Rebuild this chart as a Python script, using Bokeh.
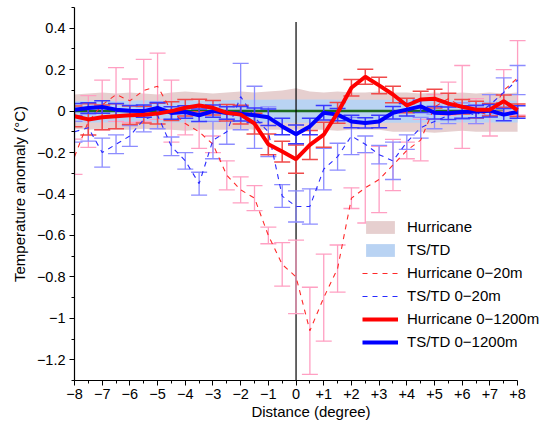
from bokeh.plotting import figure
from bokeh.models import (ColumnDataSource, Whisker, TeeHead, FixedTicker, Legend, LegendItem)
from bokeh.embed import file_html
from bokeh.resources import INLINE

# ---------------- data ----------------
distance = [-8, -7.5, -7, -6.5, -6, -5.5, -5, -4.5, -4, -3.5, -3, -2.5, -2, -1.5, -1, -0.5,
            0, 0.5, 1, 1.5, 2, 2.5, 3, 3.5, 4, 4.5, 5, 5.5, 6, 6.5, 7, 7.5, 8]

# significance bands
hur_band_hi = [0.08, 0.085, 0.09, 0.085, 0.09, 0.085, 0.08, 0.09, 0.095, 0.09, 0.085, 0.09, 0.095, 0.09, 0.095, 0.10,
               0.11, 0.095, 0.09, 0.095, 0.09, 0.09, 0.095, 0.09, 0.09, 0.085, 0.09, 0.085, 0.09, 0.085, 0.09, 0.085, 0.09]
hur_band_lo = [-0.085, -0.09, -0.085, -0.09, -0.09, -0.085, -0.09, -0.09, -0.095, -0.09, -0.09, -0.09, -0.085, -0.09, -0.09, -0.09,
               -0.09, -0.09, -0.09, -0.095, -0.09, -0.09, -0.09, -0.10, -0.10, -0.10, -0.105, -0.10, -0.095, -0.10, -0.10, -0.10, -0.10]
ts_band_hi = [0.048, 0.05, 0.05, 0.048, 0.05, 0.052, 0.05, 0.05, 0.052, 0.05, 0.05, 0.052, 0.055, 0.055, 0.055, 0.056,
              0.056, 0.056, 0.056, 0.055, 0.055, 0.055, 0.055, 0.055, 0.055, 0.055, 0.052, 0.052, 0.05, 0.05, 0.05, 0.05, 0.05]
ts_band_lo = [-0.055, -0.055, -0.055, -0.055, -0.055, -0.055, -0.055, -0.055, -0.055, -0.055, -0.055, -0.055, -0.055, -0.055, -0.055, -0.056,
              -0.056, -0.056, -0.056, -0.056, -0.056, -0.056, -0.056, -0.056, -0.056, -0.056, -0.055, -0.055, -0.055, -0.055, -0.055, -0.055, -0.055]

# Hurricane 0-20m
hur20 = [-0.22, -0.05, 0.03, 0.08, 0.05, 0.10, 0.12, 0.0, -0.06, -0.10, -0.16, -0.31, -0.38, -0.42, -0.60, -0.74,
         -0.80, -1.06, -0.90, -0.76, -0.42, -0.37, -0.33, -0.26, -0.19, -0.14, 0.02, 0.06, 0.02, 0.0, -0.02, 0.10, 0.16]
hur20_err = [0.085, 0.125, 0.12, 0.13, 0.105, 0.15, 0.16, 0.15, 0.055, 0.08, 0.04, 0.07, 0.063, 0.06, 0.04, 0.105,
             0.177, 0.21, 0.21, 0.114, 0.05, 0.17, 0.16, 0.124, 0.04, 0.10, 0.06, 0.08, 0.20, 0.06, 0.10, 0.10, 0.18]

# TS/TD 0-20m
ts20 = [-0.10, -0.08, -0.20, -0.16, -0.12, -0.04, -0.02, -0.17, -0.24, -0.35, -0.14, -0.10, 0.07, -0.03, -0.10, -0.41,
        -0.46, -0.46, -0.28, -0.22, -0.12, -0.16, -0.21, -0.24, -0.15, -0.08, -0.05, -0.02, 0.0, -0.02, 0.03, 0.09, 0.15]
ts20_err = [0.05, 0.065, 0.07, 0.045, 0.05, 0.06, 0.065, 0.045, 0.04, 0.055, 0.09, 0.06, 0.16, 0.15, 0.12, 0.055,
            0.075, 0.085, 0.10, 0.065, 0.09, 0.04, 0.045, 0.09, 0.035, 0.05, 0.035, 0.04, 0.04, 0.04, 0.05, 0.07, 0.07]

# Hurricane 0-1200m
hur1200 = [-0.025, -0.04, -0.03, -0.025, -0.02, -0.017, -0.012, 0.0, 0.016, 0.027, 0.016, -0.008, -0.017, -0.06, -0.16, -0.195,
           -0.232, -0.163, -0.114, -0.008, 0.113, 0.166, 0.124, 0.08, 0.027, 0.056, 0.06, 0.036, 0.021, 0.007, 0.007, 0.048, 0.004]
hur1200_err = [0.05, 0.075, 0.06, 0.06, 0.045, 0.04, 0.05, 0.045, 0.04, 0.03, 0.035, 0.04, 0.045, 0.05, 0.05, 0.05,
               0.068, 0.07, 0.06, 0.05, 0.04, 0.036, 0.04, 0.04, 0.035, 0.04, 0.045, 0.05, 0.035, 0.04, 0.03, 0.03, 0.03]

# TS/TD 0-1200m
ts1200 = [0.007, 0.015, 0.02, 0.007, 0.002, 0.0, 0.015, -0.009, -0.004, -0.02, 0.0, -0.009, -0.013, -0.02, -0.03, -0.074,
          -0.112, -0.074, -0.008, -0.017, -0.05, -0.057, -0.05, -0.008, 0.007, 0.023, -0.008, -0.01, -0.004, -0.002, 0.002, -0.017, -0.004]
ts1200_err = [0.03, 0.025, 0.03, 0.03, 0.025, 0.03, 0.025, 0.03, 0.03, 0.03, 0.03, 0.03, 0.035, 0.035, 0.04, 0.04,
              0.045, 0.04, 0.035, 0.03, 0.03, 0.025, 0.03, 0.03, 0.03, 0.03, 0.03, 0.03, 0.03, 0.03, 0.03, 0.03, 0.03]

# reference lines
green_line_x = [-8, 7.5]
green_line_y = [0, 0]
zero_line_x = [0, 0]
zero_line_y = [-1.3, 0.43]

# ticks
x_ticks = [-8, -7, -6, -5, -4, -3, -2, -1, 0, 1, 2, 3, 4, 5, 6, 7, 8]
x_tick_labels = ["\u22128", "\u22127", "\u22126", "\u22125", "\u22124", "\u22123", "\u22122", "\u22121", "0",
                 "+1", "+2", "+3", "+4", "+5", "+6", "+7", "+8"]
x_minor = [-7.5, -6.5, -5.5, -4.5, -3.5, -2.5, -1.5, -0.5, 0.5, 1.5, 2.5, 3.5, 4.5, 5.5, 6.5, 7.5]
y_ticks = [-1.2, -1.0, -0.8, -0.6, -0.4, -0.2, 0, 0.2, 0.4]
y_tick_labels = ["\u22121.2", "\u22121", "\u22120.8", "\u22120.6", "\u22120.4", "\u22120.2", "0", "0.2", "0.4"]
y_minor = [-1.3, -1.1, -0.9, -0.7, -0.5, -0.3, -0.1, 0.1, 0.3, 0.5]

FONT = "Liberation Sans"

# ---------------- figure ----------------
# the frame runs past +8 (axis bounded at +8) so the legend text is not clipped
p = figure(width=547, height=422, x_range=(-8, 9.08), y_range=(-1.3, 0.5),
           output_backend="svg", toolbar_location=None,
           min_border_left=74, min_border_right=0, min_border_top=7, min_border_bottom=42)
p.outline_line_color = None
p.xgrid.visible = False
p.ygrid.visible = False
p.background_fill_color = "white"
p.border_fill_color = "white"

# bands
src_band = ColumnDataSource(dict(x=distance, hh=hur_band_hi, hl=hur_band_lo, th=ts_band_hi, tl=ts_band_lo))
r_hb = p.varea(x="x", y1="hl", y2="hh", source=src_band, fill_color="#e6cfcf", fill_alpha=1.0, level="image")
r_tb = p.varea(x="x", y1="tl", y2="th", source=src_band, fill_color="#b9d3f3", fill_alpha=1.0, level="image")

# green line at zero
p.line(green_line_x, green_line_y, line_color="#1e6b1e", line_width=2.5, level="underlay")

# vertical zero line
p.line(zero_line_x, zero_line_y, line_color="black", line_width=1.2, level="underlay")


def add_whisker(vals, errs, color, width, alpha=1.0):
    hi = [v + e for v, e in zip(vals, errs)]
    lo = [v - e for v, e in zip(vals, errs)]
    src = ColumnDataSource(dict(x=distance, hi=hi, lo=lo))
    w = Whisker(source=src, base="x", upper="hi", lower="lo", level="underlay",
                line_color=color, line_width=width, line_alpha=alpha,
                upper_head=TeeHead(size=16, line_color=color, line_width=width, line_alpha=alpha),
                lower_head=TeeHead(size=16, line_color=color, line_width=width, line_alpha=alpha))
    p.add_layout(w)


add_whisker(hur20, hur20_err, "#ff9fc2", 1.3)
add_whisker(ts20, ts20_err, "#8c8cff", 1.3)
add_whisker(hur1200, hur1200_err, "#f04a4a", 1.5)
add_whisker(ts1200, ts1200_err, "#3a3aff", 1.5)

r_hd = p.line(distance, hur20, line_color="#ff2a2a", line_width=1.1, line_dash="5 5")
r_td = p.line(distance, ts20, line_color="#2a2aff", line_width=1.1, line_dash="5 5")
r_ts = p.line(distance, ts1200, line_color="#0000ff", line_width=4)
r_hs = p.line(distance, hur1200, line_color="#ff0000", line_width=4)

# ---------------- axes ----------------
p.xaxis.ticker = FixedTicker(ticks=x_ticks, minor_ticks=x_minor)
p.xaxis.major_label_overrides = {t: l for t, l in zip(x_ticks, x_tick_labels)}
p.xaxis.bounds = (-8, 8)
p.yaxis.ticker = FixedTicker(ticks=y_ticks, minor_ticks=y_minor)
p.yaxis.major_label_overrides = {t: l for t, l in zip(y_ticks, y_tick_labels)}

for ax in (p.xaxis[0], p.yaxis[0]):
    ax.axis_line_color = "black"
    ax.axis_line_width = 1.2
    ax.major_tick_in = 0
    ax.major_tick_out = 5
    ax.minor_tick_in = 0
    ax.minor_tick_out = 3
    ax.major_tick_line_color = "black"
    ax.minor_tick_line_color = "black"
    ax.major_label_text_font = FONT
    ax.major_label_text_font_size = "14.5px"
    ax.major_label_text_color = "black"
    ax.axis_label_text_font = FONT
    ax.axis_label_text_font_size = "15px"
    ax.axis_label_text_font_style = "normal"
    ax.axis_label_text_color = "black"

p.xaxis.axis_label = "Distance (degree)"
p.yaxis.axis_label = "Temperature anomaly (\u00b0C)"
p.xaxis.major_label_standoff = 3
p.xaxis.axis_label_standoff = 1
p.yaxis.major_label_standoff = 4
p.yaxis.axis_label_standoff = 6

# ---------------- legend ----------------
legend = Legend(items=[
    LegendItem(label="Hurricane", renderers=[r_hb]),
    LegendItem(label="TS/TD", renderers=[r_tb]),
    LegendItem(label="Hurricane 0\u221220m", renderers=[r_hd]),
    LegendItem(label="TS/TD 0\u221220m", renderers=[r_td]),
    LegendItem(label="Hurricane 0\u22121200m", renderers=[r_hs]),
    LegendItem(label="TS/TD 0\u22121200m", renderers=[r_ts]),
], location=(288, 30))
legend.border_line_color = None
legend.background_fill_alpha = 0
legend.padding = 0
legend.margin = 0
legend.spacing = 6
legend.glyph_width = 36
legend.glyph_height = 16
legend.label_height = 16
legend.label_standoff = 9
legend.label_text_font = FONT
legend.label_text_font_size = "15px"
legend.label_text_color = "black"
p.add_layout(legend, "center")

open("out.html", "w").write(file_html(p, INLINE))
